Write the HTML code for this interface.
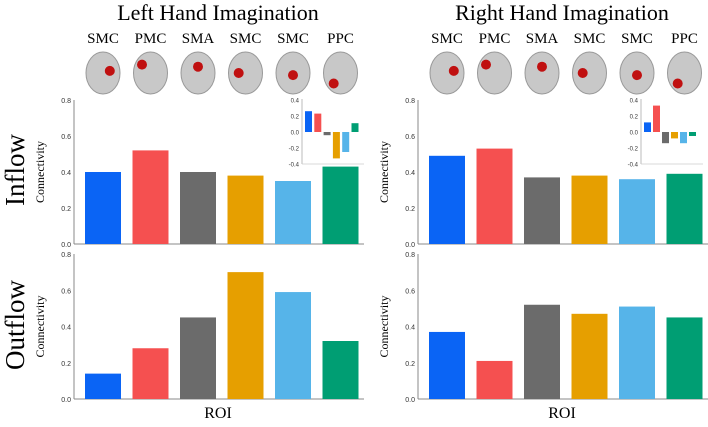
<!DOCTYPE html>
<html><head><meta charset="utf-8"><style>
body{margin:0;background:#fff;width:708px;height:422px;overflow:hidden}
svg text{font-family:"Liberation Sans",sans-serif}
.serif{font-family:"Liberation Serif",serif}
</style></head><body>
<svg id="c" width="708" height="422" xmlns="http://www.w3.org/2000/svg"></svg>
<script>
const rois=["SMC","PMC","SMA","SMC","SMC","PPC"];
const colors=["#0a64f5","#f55050","#6b6b6b","#e69f00","#56b4e9","#009e73"];
const leftInflow=[0.40,0.52,0.40,0.38,0.35,0.43];
const leftOutflow=[0.14,0.28,0.45,0.70,0.59,0.32];
const rightInflow=[0.49,0.53,0.37,0.38,0.36,0.39];
const rightOutflow=[0.37,0.21,0.52,0.47,0.51,0.45];
const leftInset=[0.26,0.23,-0.04,-0.33,-0.25,0.11];
const rightInset=[0.12,0.33,-0.14,-0.08,-0.14,-0.05];
const mainTicks=["0.0","0.2","0.4","0.6","0.8"];
const insetTicks=["-0.4","-0.2","0.0","0.2","0.4"];
const titles=["Left Hand Imagination","Right Hand Imagination"];
const brainSpots=[[0.7,0.45],[0.25,0.3],[0.5,0.35],[0.3,0.5],[0.5,0.55],[0.3,0.75]];
const NS="http://www.w3.org/2000/svg";
const svg=document.getElementById('c');
function mk(t,a,txt){const e=document.createElementNS(NS,t);for(const k in a)e.setAttribute(k,a[k]);if(txt!==undefined)e.textContent=txt;svg.appendChild(e);return e;}
function panel(ax,top,bottom,vals,name){
  const y=v=>bottom-(v/0.8)*(bottom-top);
  const x=i=>ax+11+i*47.5;
  let l=mk('line',{x1:ax,y1:top,x2:ax,y2:bottom,stroke:'#888','stroke-width':1});
  
  l=mk('line',{x1:ax,y1:bottom,x2:ax+290,y2:bottom,stroke:'#888','stroke-width':1});
  
  mainTicks.forEach(t=>{const e=mk('text',{x:ax-3,y:y(+t)+3,'font-size':7,'text-anchor':'end',fill:'#333'},t);
    });
  vals.forEach((v,i)=>{const r=mk('rect',{x:x(i),y:y(v),width:36,height:bottom-y(v),fill:colors[i]});
    });
  const tx=ax-30,ty=(top+bottom)/2;
  const t=mk('text',{x:tx,y:ty,'font-size':12,'text-anchor':'middle',class:'serif',transform:`rotate(-90 ${tx} ${ty})`},'Connectivity');
  
}
function inset(ax,vals,bw,step,name){
  const y=v=>132-(v/0.4)*32;
  let l=mk('line',{x1:ax,y1:99,x2:ax,y2:164,stroke:'#aaa','stroke-width':0.8});
  
  l=mk('line',{x1:ax,y1:164,x2:ax+62,y2:164,stroke:'#ccc','stroke-width':0.8});
  
  insetTicks.forEach(t=>{const e=mk('text',{x:ax-3,y:y(+t)+2.5,'font-size':6,'text-anchor':'end',fill:'#333'},t);
    });
  vals.forEach((v,i)=>{const yy=Math.min(y(v),y(0));const r=mk('rect',{x:ax+3+i*step,y:yy,width:bw,height:Math.abs(y(v)-y(0)),fill:colors[i]});
    });
}
[74,418].forEach((ax,p)=>{
  const cx=ax+144;
  const tt=mk('text',{x:cx,y:20,'font-size':22,'text-anchor':'middle',class:'serif'},titles[p]);
  
  rois.forEach((r,i)=>{const bx=ax+29+i*47.5;
    const e=mk('text',{x:bx,y:43,'font-size':15,'text-anchor':'middle',class:'serif'},r);
    
    const b=mk('ellipse',{cx:bx,cy:73,rx:17,ry:21,fill:'#c8c8c8',stroke:'#999','stroke-width':1});
    
    const s=mk('circle',{cx:bx-17+34*brainSpots[i][0],cy:52+42*brainSpots[i][1],r:5,fill:'#c01010'});
    
  });
  panel(ax,100,244,p?rightInflow:leftInflow,p?'right-inflow':'left-inflow');
  panel(ax,254,399,p?rightOutflow:leftOutflow,p?'right-outflow':'left-outflow');
  const roi=mk('text',{x:cx,y:418,'font-size':16,'text-anchor':'middle',class:'serif'},'ROI');
  
});
inset(302,leftInset,7,9.3,'left-inset');
inset(641,rightInset,7,9,'right-inset');
let e=mk('text',{x:24,y:170,'font-size':27,'text-anchor':'middle',class:'serif',transform:'rotate(-90 24 170)'},'Inflow');

e=mk('text',{x:24,y:325,'font-size':27,'text-anchor':'middle',class:'serif',transform:'rotate(-90 24 325)'},'Outflow');

</script>
</body></html>
